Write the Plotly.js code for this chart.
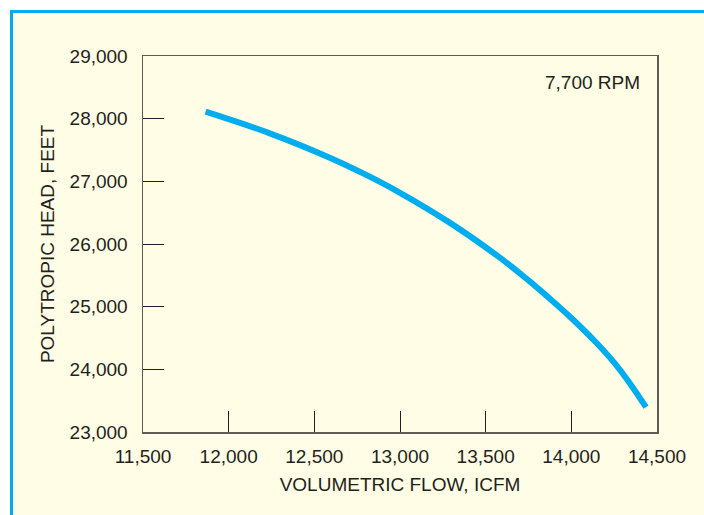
<!DOCTYPE html>
<html>
<head>
<meta charset="utf-8">
<script src="https://cdn.plot.ly/plotly-3.0.1.min.js"></script>
<style>
  html, body { margin: 0; padding: 0; background: #ffffff; width: 704px; height: 515px; overflow: hidden; }
  #panel { position: absolute; left: 10px; top: 10px; width: 720px; height: 540px;
           background: #fffde5; border-left: 3px solid #00aeef; border-top: 3px solid #00aeef; }
  #chart { position: absolute; left: 0; top: 0; width: 704px; height: 515px; }
</style>
</head>
<body>
<div id="panel"></div>
<div id="chart"></div>
<script>
const flowICFM = [11865, 12240, 12590, 12800, 13000, 13290, 13585, 13750, 13875, 14000, 14150, 14250, 14340, 14436];
const headFeet = [28111, 27766, 27377, 27106, 26817, 26341, 25777, 25419, 25127, 24819, 24412, 24107, 23783, 23396];
const xTickVals = [11500, 12000, 12500, 13000, 13500, 14000, 14500];
const xTickText = ["11,500", "12,000", "12,500", "13,000", "13,500", "14,000", "14,500"];
const yTickVals = [23000, 24000, 25000, 26000, 27000, 28000, 29000];
const yTickText = ["23,000", "24,000", "25,000", "26,000", "27,000", "28,000", "29,000"];
const speedLabel = "7,700 RPM";

const font = { family: "Liberation Sans, Arial, Helvetica, sans-serif", size: 19, color: "#231f20" };

const trace = {
  x: flowICFM, y: headFeet, type: "scatter", mode: "lines",
  line: { color: "#00aeef", width: 6, shape: "spline", smoothing: 1 },
  hoverinfo: "skip"
};

const layout = {
  width: 704, height: 515,
  margin: { l: 143, r: 47, t: 56, b: 83, pad: 0 },
  paper_bgcolor: "rgba(0,0,0,0)",
  plot_bgcolor: "rgba(0,0,0,0)",
  showlegend: false,
  font: font,
  xaxis: {
    range: [11500, 14500],
    tickvals: xTickVals, ticktext: xTickText,
    ticks: "inside", ticklen: 21, tickwidth: 1, tickcolor: "#231f20",
    showline: true, mirror: true, linecolor: "#5e5c55", linewidth: 1.5,
    showgrid: false, zeroline: false,
    tickfont: font, ticklabelstandoff: 7,
    title: { text: "VOLUMETRIC FLOW, ICFM", font: font, standoff: 11 }
  },
  yaxis: {
    range: [23000, 29000],
    tickvals: yTickVals, ticktext: yTickText,
    ticks: "inside", ticklen: 21, tickwidth: 1, tickcolor: "#231f20",
    showline: true, mirror: true, linecolor: "#5e5c55", linewidth: 1.5,
    showgrid: false, zeroline: false,
    tickfont: font, ticklabelstandoff: 10,
    title: { text: "POLYTROPIC HEAD, FEET", font: font, standoff: 10 }
  },
  annotations: [{
    text: speedLabel, xref: "paper", yref: "paper",
    x: 0.97, y: 0.93, xanchor: "right", yanchor: "middle",
    showarrow: false, font: font
  }]
};

Plotly.newPlot("chart", [trace], layout, { displayModeBar: false, staticPlot: true });
</script>
</body>
</html>
